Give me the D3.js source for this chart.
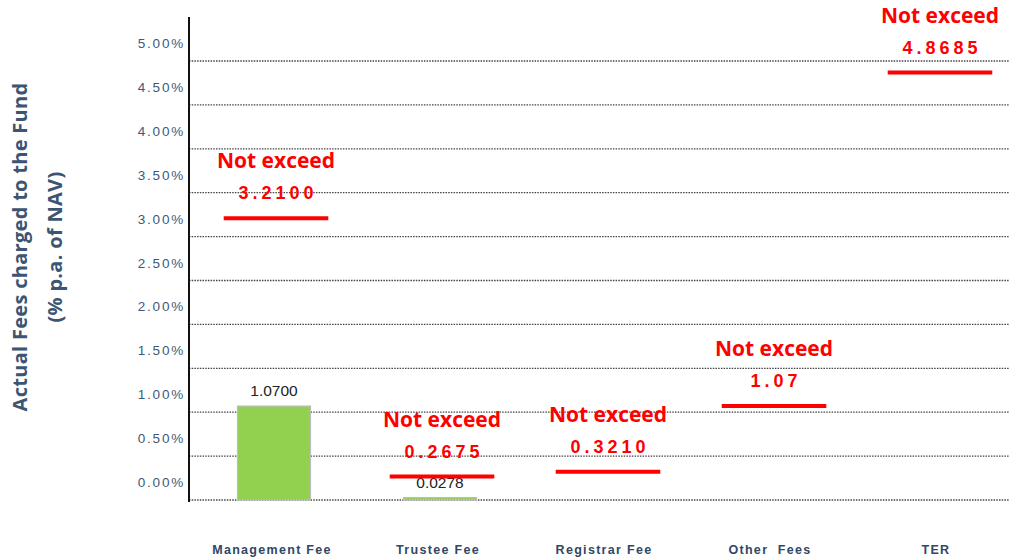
<!DOCTYPE html>
<html>
<head>
<meta charset="utf-8">
<script src="https://cdn.jsdelivr.net/npm/d3@7"></script>
<style>
  body { margin: 0; background: #fff; }
  svg { display: block; }
</style>
</head>
<body>
<svg id="chart" width="1009" height="558"></svg>
<script>
// chart data
let categories = ["Management Fee", "Trustee Fee", "Registrar Fee", "Other  Fees", "TER"];
let actualFees = [1.07, 0.0278, null, null, null];
let actualLabels = ["1.0700", "0.0278", "", "", ""];
let limitFees = [3.21, 0.2675, 0.321, 1.07, 4.8685];
let limitLabels = ["3.2100", "0.2675", "0.3210", "1.07", "4.8685"];
let yTicks = [0, 0.5, 1, 1.5, 2, 2.5, 3, 3.5, 4, 4.5, 5];

let svg = d3.select("#chart");

let x = d3.scaleBand()
    .domain(categories)
    .range([189, 1019])
    .padding(0);

let y = d3.scaleLinear()
    .domain([0, 5])
    .range([500, 61]);

// dotted grid lines
svg.append("g")
    .selectAll("line")
    .data(yTicks)
    .join("line")
    .attr("x1", 189)
    .attr("x2", 1009)
    .attr("y1", d => y(d))
    .attr("y2", d => y(d))
    .attr("stroke", "#444")
    .attr("stroke-width", 1.3)
    .attr("stroke-dasharray", "1.5,1.2");

// tick labels (they sit above the grid lines in the original)
svg.append("g")
    .selectAll("text")
    .data(yTicks)
    .join("text")
    .attr("x", 185)
    .attr("y", d => y(d) - 13)
    .attr("text-anchor", "end")
    .attr("font-family", "Liberation Sans, Arial, sans-serif")
    .attr("font-size", 13.5)
    .attr("letter-spacing", 1.8)
    .attr("fill", "#3d5a78")
    .text(d => d3.format(".2f")(d) + "%");

// y axis line
svg.append("line")
    .attr("x1", 189).attr("x2", 189)
    .attr("y1", 17).attr("y2", 502)
    .attr("stroke", "#111")
    .attr("stroke-width", 2);

// axis title
let title = svg.append("text")
    .attr("transform", "translate(27,247) rotate(-90)")
    .attr("text-anchor", "middle")
    .attr("font-family", "Open Sans, sans-serif")
    .attr("font-weight", "bold")
    .attr("font-size", 20)
    .attr("letter-spacing", 0.3)
    .attr("fill", "#3b5573");
title.append("tspan").attr("x", 0).attr("dy", 0).text("Actual Fees charged to the Fund");
title.append("tspan").attr("x", 0).attr("dy", 35).text("(% p.a. of NAV)");

// bars
let barW = x.bandwidth() * 0.44;
let bars = categories.map((c, i) => ({cat: c, value: actualFees[i], label: actualLabels[i]}))
    .filter(d => d.value != null);

svg.append("g")
    .selectAll("rect")
    .data(bars)
    .join("rect")
    .attr("x", d => x(d.cat) + x.bandwidth() / 2 - barW / 2 + 2)
    .attr("y", d => y(d.value))
    .attr("width", barW)
    .attr("height", d => y(0) - y(d.value))
    .attr("fill", "#92d050")
    .attr("stroke", "#bdbdbd")
    .attr("stroke-width", 1.2);

svg.append("g")
    .selectAll("text")
    .data(bars)
    .join("text")
    .attr("x", d => x(d.cat) + x.bandwidth() / 2 + 2)
    .attr("y", d => y(d.value) - 10)
    .attr("text-anchor", "middle")
    .attr("font-family", "Liberation Sans, Arial, sans-serif")
    .attr("font-size", 15.5)
    .attr("fill", "#222")
    .text(d => d.label);

// limit lines
let limW = x.bandwidth() * 0.63;
let limits = categories.map((c, i) => ({cat: c, value: limitFees[i], label: limitLabels[i]}));

svg.append("g")
    .selectAll("line")
    .data(limits)
    .join("line")
    .attr("x1", d => x(d.cat) + x.bandwidth() / 2 - limW / 2 + 4)
    .attr("x2", d => x(d.cat) + x.bandwidth() / 2 + limW / 2 + 4)
    .attr("y1", d => y(d.value))
    .attr("y2", d => y(d.value))
    .attr("stroke", "#ff0000")
    .attr("stroke-width", 4);

let notes = svg.append("g")
    .selectAll("g")
    .data(limits)
    .join("g")
    .attr("transform", d => `translate(${x(d.cat) + x.bandwidth() / 2 + 4},${y(d.value)})`);

notes.append("text")
    .attr("y", -50)
    .attr("text-anchor", "middle")
    .attr("font-family", "Open Sans, sans-serif")
    .attr("font-weight", "bold")
    .attr("font-size", 21)
    .attr("fill", "#ff0000")
    .text("Not exceed");

notes.append("text")
    .attr("x", 2)
    .attr("y", -19)
    .attr("text-anchor", "middle")
    .attr("font-family", "Liberation Sans, Arial, sans-serif")
    .attr("font-weight", "bold")
    .attr("font-size", 18)
    .attr("letter-spacing", 4)
    .attr("fill", "#ff0000")
    .text(d => d.label);

// category labels
svg.append("g")
    .selectAll("text")
    .data(categories)
    .join("text")
    .attr("x", d => x(d) + x.bandwidth() / 2)
    .attr("y", 554)
    .attr("text-anchor", "middle")
    .attr("font-family", "Liberation Sans, Arial, sans-serif")
    .attr("font-weight", "bold")
    .attr("font-size", 12.5)
    .attr("letter-spacing", 1.3)
    .attr("fill", "#2f4864")
    .style("white-space", "pre")
    .text(d => d);
</script>
</body>
</html>
